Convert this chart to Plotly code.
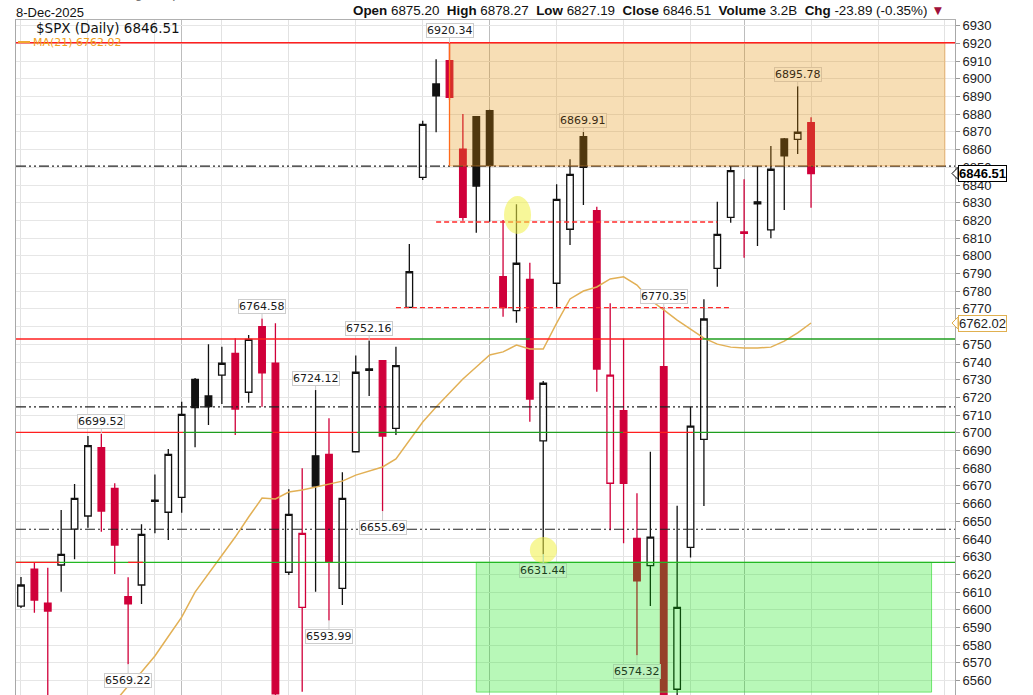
import plotly.graph_objects as go

# ---------------- data ----------------
dates = ["15-Sep", "16-Sep", "17-Sep", "18-Sep", "19-Sep", "22-Sep", "23-Sep", "24-Sep", "25-Sep", "26-Sep",
         "29-Sep", "30-Sep", "1-Oct", "2-Oct", "3-Oct", "6-Oct", "7-Oct", "8-Oct", "9-Oct", "10-Oct",
         "13-Oct", "14-Oct", "15-Oct", "16-Oct", "17-Oct", "20-Oct", "21-Oct", "22-Oct", "23-Oct", "24-Oct",
         "27-Oct", "28-Oct", "29-Oct", "30-Oct", "31-Oct", "3-Nov", "4-Nov", "5-Nov", "6-Nov", "7-Nov",
         "10-Nov", "11-Nov", "12-Nov", "13-Nov", "14-Nov", "17-Nov", "18-Nov", "19-Nov", "20-Nov", "21-Nov",
         "24-Nov", "25-Nov", "26-Nov", "28-Nov", "1-Dec", "2-Dec", "3-Dec", "4-Dec", "5-Dec", "8-Dec"]

opens = [6602.1, 6622.9, 6603.7, 6625.3, 6645.6, 6653.0, 6691.6, 6668.6, 6607.4, 6614.0,
         6661.9, 6655.1, 6663.5, 6730.2, 6720.8, 6732.6, 6744.9, 6722.9, 6760.0, 6739.3,
         6621.2, 6601.4, 6687.0, 6687.8, 6612.1, 6689.3, 6736.1, 6740.7, 6702.5, 6770.9,
         6844.3, 6897.1, 6910.2, 6860.3, 6878.6, 6882.0, 6788.2, 6769.0, 6786.7, 6695.4,
         6784.5, 6815.0, 6867.3, 6825.5, 6671.5, 6712.5, 6640.4, 6624.9, 6737.3, 6555.1,
         6635.3, 6696.3, 6792.9, 6821.7, 6813.5, 6830.5, 6814.6, 6866.0, 6865.8, 6875.20]
highs = [6618.5, 6626.4, 6623.8, 6656.4, 6671.0, 6698.2, 6699.52, 6671.5, 6618.4, 6648.3,
         6676.5, 6690.8, 6717.6, 6730.9, 6750.0, 6748.6, 6753.4, 6755.2, 6764.58, 6761.9,
         6668.1, 6679.9, 6724.12, 6708.2, 6677.7, 6743.6, 6752.16, 6741.0, 6748.6, 6806.7,
         6876.3, 6911.0, 6920.34, 6880.1, 6879.0, 6882.5, 6820.2, 6829.1, 6796.1, 6729.3,
         6840.4, 6854.5, 6869.91, 6827.7, 6773.2, 6753.3, 6665.8, 6689.3, 6770.35, 6658.8,
         6714.7, 6775.4, 6830.6, 6850.7, 6843.2, 6850.7, 6862.0, 6866.5, 6895.78, 6878.27]
lows = [6601.0, 6598.3, 6548.0, 6610.2, 6628.5, 6646.4, 6644.1, 6620.2, 6569.22, 6603.3,
        6643.2, 6639.4, 6654.8, 6691.8, 6704.4, 6716.3, 6698.7, 6717.0, 6714.7, 6550.8,
        6619.6, 6553.7, 6610.2, 6593.99, 6602.7, 6689.1, 6720.8, 6655.69, 6698.7, 6770.8,
        6842.8, 6869.8, 6888.0, 6819.8, 6813.0, 6819.3, 6765.6, 6762.2, 6706.3, 6631.44,
        6770.3, 6806.1, 6828.7, 6723.2, 6645.0, 6637.6, 6574.32, 6602.1, 6521.0, 6521.0,
        6629.6, 6658.6, 6782.5, 6818.7, 6798.9, 6805.5, 6809.9, 6825.9, 6857.5, 6827.19]
closes = [6614.0, 6605.5, 6599.3, 6631.3, 6663.0, 6692.7, 6655.8, 6636.6, 6603.3, 6642.6,
          6661.2, 6687.8, 6710.4, 6714.3, 6714.8, 6739.3, 6713.4, 6752.8, 6733.9, 6552.51,
          6653.9, 6643.2, 6669.9, 6627.2, 6663.0, 6734.2, 6735.35, 6698.2, 6737.9, 6791.0,
          6874.3, 6890.3, 6889.5, 6821.7, 6839.4, 6850.9, 6770.7, 6795.8, 6719.1, 6728.0,
          6831.9, 6846.0, 6850.0, 6736.0, 6732.6, 6671.5, 6616.3, 6641.0, 6538.76, 6601.4,
          6703.8, 6764.3, 6812.1, 6848.1, 6812.63, 6829.37, 6848.9, 6856.4, 6869.8, 6846.51]
ma21 = [None] * 7 + [6548.0, 6556.9, 6564.8, 6573.9, 6584.9, 6595.9, 6610.0, 6620.2, 6630.4, 6641.1,
                     6652.4, 6663.1, 6662.6, 6666.5, 6667.7, 6669.4, 6671.0, 6672.7, 6676.1, 6678.4,
                     6680.7, 6685.2, 6695.3, 6706.1, 6714.6, 6722.5, 6730.4, 6737.2, 6744.0, 6745.7,
                     6749.6, 6747.3, 6747.3, 6762.0, 6775.6, 6780.1, 6782.4, 6786.9, 6788.1, 6783.5,
                     6775.0, 6769.4, 6763.7, 6758.6, 6753.5, 6750.1, 6748.4, 6747.9, 6747.9, 6748.4,
                     6751.8, 6756.4, 6762.02]

# annotated highs / lows: (bar index, value, 'H' or 'L')
hilo = [(32, 6920.34, "H"), (58, 6895.78, "H"), (42, 6869.91, "H"), (48, 6770.35, "H"),
        (18, 6764.58, "H"), (26, 6752.16, "H"), (22, 6724.12, "H"), (6, 6699.52, "H"),
        (27, 6655.69, "L"), (23, 6593.99, "L"), (8, 6569.22, "L"), (39, 6631.44, "L"),
        (46, 6574.32, "L")]

# drawn levels
dashdot_levels = [6850.7, 6714.6, 6645.5]
resistance_top = 6920.34
level_a = 6753.0
level_b = 6700.2
level_c = 6626.8
red_dash_1 = (31, 52, 6819.1)
red_dash_2 = (28, 53, 6770.7)
orange_zone = (32, 69, 6850.7, 6920.34)
green_zone = (34, 68, 6553.5, 6626.8)

weekly_grid = [0, 5, 10, 15, 20, 25, 30, 40, 45, 50, 59, 64, 69]
month_grid = [12, 35, 54]

last_close = 6846.51
last_ma = 6762.02

# ---------------- figure ----------------
W, H = 1033, 695
L, R, T, B = 16, 955, 20, 695
XMIN, XMAX = -0.373, 69.75
YMIN, YMAX = 6551.86, 6933.22
RED = "#d0003a"


def pxx(x):
    return (x - L) / (R - L)


def pxy(y):
    return (B - y) / (B - T)


n = len(closes)
groups = {"up_black": [], "down_black": [], "down_red": [], "up_red": []}
for i in range(n):
    prev = closes[i - 1] if i > 0 else opens[i]
    black = closes[i] >= prev
    hollow = closes[i] > opens[i]
    key = ("up_" if hollow else "down_") + ("black" if black else "red")
    groups[key].append(i)

style = {"up_black": ("#111111", "white"), "down_black": ("#111111", "#111111"),
         "down_red": (RED, RED), "up_red": (RED, "white")}

fig = go.Figure()
for key, idx in groups.items():
    if not idx:
        continue
    lc, fc = style[key]
    fig.add_trace(go.Candlestick(
        x=idx, open=[opens[i] for i in idx], high=[highs[i] for i in idx],
        low=[lows[i] for i in idx], close=[closes[i] for i in idx],
        text=[dates[i] for i in idx],
        increasing=dict(line=dict(color=lc, width=1.3), fillcolor=fc),
        decreasing=dict(line=dict(color=lc, width=1.3), fillcolor=fc),
        whiskerwidth=0, showlegend=False, hoverinfo="text"))

fig.add_trace(go.Scatter(x=list(range(n)), y=ma21, mode="lines",
                         line=dict(color="#e2b055", width=1.5), showlegend=False, hoverinfo="skip"))

shapes = []
DD = "10px,3px,2px,3px,2px,3px"
for lv in dashdot_levels:
    shapes.append(dict(type="line", xref="x", yref="y", x0=XMIN, x1=XMAX, y0=lv, y1=lv,
                       line=dict(color="#222222", width=1.2, dash=DD), layer="above"))

# zones
ox0, ox1, oy0, oy1 = orange_zone
shapes.append(dict(type="rect", xref="x", yref="y", x0=ox0, x1=ox1, y0=oy0, y1=oy1,
                   fillcolor="rgba(230,145,10,0.3)", line=dict(color="rgba(230,140,40,0.45)", width=1),
                   layer="above"))
shapes.append(dict(type="line", xref="x", yref="y", x0=ox0, x1=ox0, y0=oy0, y1=oy1,
                   line=dict(color="#ff6a1a", width=1.3), layer="above"))
gx0, gx1, gy0, gy1 = green_zone
shapes.append(dict(type="rect", xref="x", yref="y", x0=gx0, x1=gx1, y0=gy0, y1=gy1,
                   fillcolor="rgba(0,230,0,0.28)", line=dict(color="rgba(60,220,60,0.7)", width=1),
                   layer="above"))

GREEN = "#1f9e1f"
REDL = "#ff1f1f"


def seg(x0, x1, y, color, width=1.3, dash="solid"):
    shapes.append(dict(type="line", xref="x", yref="y", x0=x0, x1=x1, y0=y, y1=y,
                       line=dict(color=color, width=width, dash=dash), layer="above"))


seg(XMIN, XMAX, resistance_top, REDL, 1.4)
# level A
seg(XMIN, 29.05, level_a, REDL)
seg(29.05, 38.0, level_a, GREEN)
seg(38.0, 50.9, level_a, REDL)
seg(50.9, XMAX, level_a, GREEN)
# level B
seg(XMIN, 12.1, level_b, REDL)
seg(12.1, 18.8, level_b, GREEN)
seg(18.8, 25.1, level_b, REDL)
seg(25.1, 44.96, level_b, GREEN)
seg(44.96, 50.2, level_b, REDL)
seg(50.2, XMAX, level_b, GREEN)
# level C
seg(XMIN, XMAX, level_c, "#23b823")
seg(XMIN, 2.9, level_c, REDL)
seg(8.0, 9.1, level_c, REDL)
# red dashed
seg(red_dash_1[0], red_dash_1[1], red_dash_1[2], "#ff2a2a", 1.4, "5px,3px")
seg(red_dash_2[0], red_dash_2[1], red_dash_2[2], "#ff2a2a", 1.4, "5px,3px")

# yellow highlights
shapes.append(dict(type="circle", xref="x", yref="y", x0=36.07, x1=38.09, y0=6812.3, y1=6833.8,
                   fillcolor="rgba(240,240,70,0.55)", line=dict(width=0), layer="above"))
shapes.append(dict(type="circle", xref="x", yref="y", x0=38.0, x1=40.03, y0=6626.4, y1=6641.1,
                   fillcolor="rgba(240,240,70,0.55)", line=dict(width=0), layer="above"))

# MA legend stroke
shapes.append(dict(type="line", xref="paper", yref="paper", x0=pxx(18), x1=pxx(30), y0=pxy(42), y1=pxy(42),
                   line=dict(color="#f0a830", width=2)))

# right-axis tag notches
for val, col in [(last_close, "#000000"), (last_ma, "#e0b050")]:
    shapes.append(dict(type="path", xref="paper", yref="y",
                       path=f"M {pxx(952)},{val} L {pxx(958)},{val + 3.4} L {pxx(958)},{val - 3.4} Z",
                       fillcolor="white", line=dict(color=col, width=1)))

annotations = []
in_orange = {58, 42}
in_green = {39, 46}
for i, v, kind in hilo:
    if i in in_orange:
        bg, bc, fc = "#f6ddb2", "#d9c09a", "#3b2b12"
    elif i in in_green:
        bg, bc, fc = "#bdf2bd", "#a5d8a5", "#1c3d1c"
    else:
        bg, bc, fc = "rgba(255,255,255,0.9)", "#cccccc", "#1a1a1a"
    annotations.append(dict(x=i, y=v, xref="x", yref="y", text=f"{v:.2f}", showarrow=True,
                            arrowhead=0, arrowwidth=1, arrowcolor=bc, ax=0,
                            ay=-12 if kind == "H" else 16, standoff=0,
                            bgcolor=bg, bordercolor=bc, borderwidth=1, borderpad=0,
                            font=dict(family="DejaVu Sans", size=11, color=fc)))

# right axis tags
annotations.append(dict(x=pxx(958), y=last_close, xref="paper", yref="y", xanchor="left", yanchor="middle",
                        text=f"<b>{last_close:.2f}</b>", showarrow=False, bgcolor="white",
                        bordercolor="#000000", borderwidth=1, borderpad=0,
                        font=dict(family="Liberation Sans", size=13, color="#000")))
annotations.append(dict(x=pxx(958), y=last_ma, xref="paper", yref="y", xanchor="left", yanchor="middle",
                        text=f"{last_ma:.2f}", showarrow=False, bgcolor="white",
                        bordercolor="#e0b050", borderwidth=1, borderpad=0,
                        font=dict(family="Liberation Sans", size=13, color="#222")))

# header
nb = "\u00a0"
hdr = (f"<b>Open</b> 6875.20{nb}{nb}<b>High</b> 6878.27{nb}{nb}<b>Low</b> 6827.19{nb}{nb}"
       f"<b>Close</b> 6846.51{nb}{nb}<b>Volume</b> 3.2B{nb}{nb}<b>Chg</b> -23.89 (-0.35%) "
       f"<span style='color:#a0103a'>▼</span>")
annotations.append(dict(x=pxx(946), y=pxy(11), xref="paper", yref="paper", xanchor="right", yanchor="middle",
                        text=hdr, showarrow=False, font=dict(family="Liberation Sans", size=13.4, color="#111")))
annotations.append(dict(x=pxx(14), y=pxy(12), xref="paper", yref="paper", xanchor="left", yanchor="middle",
                        text="8-Dec-2025", showarrow=False,
                        font=dict(family="Liberation Sans", size=13, color="#111")))
annotations.append(dict(x=pxx(14), y=pxy(3), xref="paper", yref="paper", xanchor="left", yanchor="bottom",
                        text="<b>$SPX</b> <span style='color:#777'>S&P 500 Large Cap Index INDX</span>",
                        showarrow=False, font=dict(family="Liberation Sans", size=14, color="#111")))
annotations.append(dict(x=pxx(34), y=pxy(28), xref="paper", yref="paper", xanchor="left", yanchor="middle",
                        text="$SPX (Daily) 6846.51", showarrow=False,
                        font=dict(family="DejaVu Sans", size=13.5, color="#111")))
annotations.append(dict(x=pxx(31), y=pxy(42), xref="paper", yref="paper", xanchor="left", yanchor="middle",
                        text="MA(21) 6762.02", showarrow=False,
                        font=dict(family="DejaVu Sans", size=11, color="#f0a020")))

fig.update_layout(
    width=W, height=H, margin=dict(l=L, r=W - R, t=T, b=H - B, pad=0),
    paper_bgcolor="white", plot_bgcolor="white",
    shapes=shapes, annotations=annotations, showlegend=False,
    xaxis=dict(range=[XMIN, XMAX], rangeslider=dict(visible=False), tickmode="array",
               tickvals=weekly_grid, showticklabels=False, ticks="", showgrid=True,
               gridcolor="#e2e2e2", gridwidth=1, zeroline=False, showline=True, mirror=True,
               linecolor="#b0b0b0", linewidth=1,
               minor=dict(tickmode="array", tickvals=month_grid, showgrid=True,
                          gridcolor="#bdbdbd", gridwidth=1, ticks="")),
    yaxis=dict(range=[YMIN, YMAX], side="right", dtick=10, tick0=6560, showgrid=True,
               gridcolor="#e6e6e6", gridwidth=1, zeroline=False, showline=True, mirror=True,
               linecolor="#a8a8a8", linewidth=1, ticks="outside", ticklen=4, tickcolor="#999",
               tickfont=dict(family="Liberation Sans", size=13, color="#222"),
               automargin=False, fixedrange=True),
)

fig.write_html("out.html", config={"displayModeBar": False},
               post_script="document.body.style.margin='0';document.body.style.overflow='hidden';")
